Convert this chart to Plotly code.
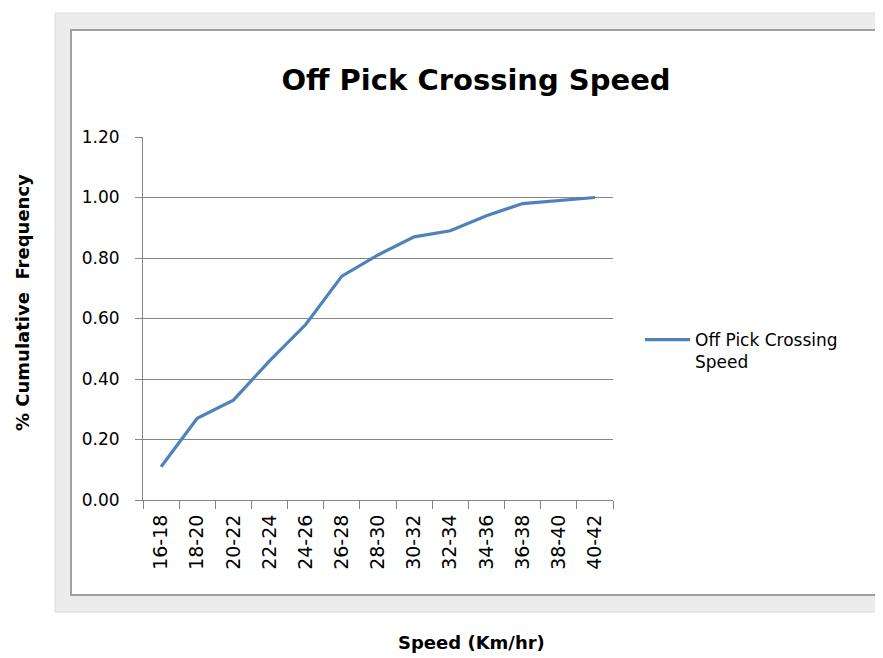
import plotly.graph_objects as go

# data
speed_classes = ["16-18", "18-20", "20-22", "22-24", "24-26", "26-28", "28-30",
                 "30-32", "32-34", "34-36", "36-38", "38-40", "40-42"]
cum_freq = [0.11, 0.27, 0.33, 0.46, 0.58, 0.74, 0.81, 0.87, 0.89, 0.94, 0.98, 0.99, 1.00]

# plot area in window pixels (used only to place the frame decoration)
L, R, T, B = 143, 613, 137, 500
OFF = 8  # page body margin
def px(x):
    return (x - L) / (R - L)
def py(y):
    return (B - y) / (B - T)

fig = go.Figure()
fig.add_trace(go.Scatter(x=speed_classes, y=cum_freq, mode="lines",
                         name="Off Pick Crossing<br>Speed",
                         line=dict(color="#4f81bd", width=3.2)))

# excel-style chart frame
fig.add_shape(type="rect", xref="paper", yref="paper", layer="below",
              x0=px(55), x1=px(900), y0=py(612), y1=py(13),
              fillcolor="#ececec", line=dict(color="#dadada", width=1))
fig.add_shape(type="rect", xref="paper", yref="paper", layer="below",
              x0=px(71), x1=px(879), y0=py(595), y1=py(30),
              fillcolor="white", line=dict(color="#a0a0a0", width=2))

fig.add_annotation(text="<b>% Cumulative  Frequency</b>", xref="paper", yref="paper",
                   x=px(22), y=py(303), xanchor="center", yanchor="middle",
                   textangle=-90, showarrow=False,
                   font=dict(family="DejaVu Sans", size=18, color="black"))
fig.add_annotation(text="<b>Speed (Km/hr)</b>", xref="paper", yref="paper",
                   x=px(471), y=py(642), xanchor="center", yanchor="middle",
                   showarrow=False,
                   font=dict(family="DejaVu Sans", size=18, color="black"))

fig.update_layout(
    width=883 - OFF, height=658 - OFF,
    margin=dict(l=L - OFF, r=883 - R, t=T - OFF, b=658 - B),
    paper_bgcolor="white", plot_bgcolor="white",
    title=dict(text="<b>Off Pick Crossing Speed</b>", x=(476 - OFF) / (883 - OFF),
               y=1 - (80 - OFF) / (658 - OFF), xanchor="center", yanchor="middle",
               font=dict(family="DejaVu Sans", size=29, color="black")),
    showlegend=True,
    legend=dict(x=px(640), y=py(322), xanchor="left", yanchor="top", valign="top",
                itemwidth=45, bgcolor="rgba(0,0,0,0)",
                font=dict(family="DejaVu Sans", size=17, color="black")),
    font=dict(family="DejaVu Sans", size=17, color="black"),
)
fig.update_xaxes(type="category", range=[-0.5, len(speed_classes) - 0.5],
                 showline=True, linecolor="#868686", linewidth=1,
                 ticks="outside", tickson="boundaries", ticklen=8, tickcolor="#868686",
                 tickangle=-90, ticklabelstandoff=6, showgrid=False,
                 tickfont=dict(size=19))
fig.update_yaxes(range=[0, 1.2], dtick=0.2, tickformat=".2f", showline=True,
                 linecolor="#868686", linewidth=1, ticks="outside", ticklen=7,
                 tickcolor="#868686", gridcolor="#868686", gridwidth=1,
                 ticklabelstandoff=12, zeroline=False, tickfont=dict(size=17))

fig.write_html("out.html")
